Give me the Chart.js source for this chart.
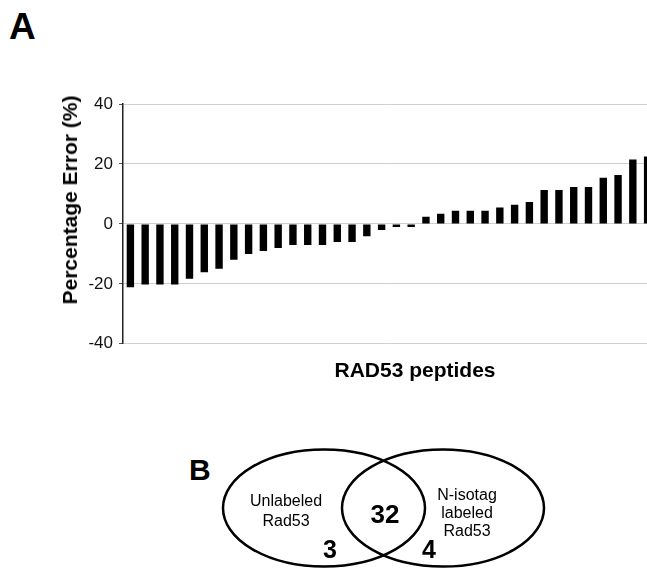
<!DOCTYPE html>
<html>
<head>
<meta charset="utf-8">
<script src="https://cdn.jsdelivr.net/npm/chart.js@4"></script>
<style>
  body { margin: 0; overflow: hidden; background: #fff; font-family: "Liberation Sans", Arial, sans-serif; }
  #page { position: relative; width: 647px; height: 568px; overflow: hidden; }
  #chartBox { position: absolute; left: 0; top: 0; width: 660px; height: 360px; }
  .panel { position: absolute; font-weight: bold; color: #000; }
  #yTitle { position: absolute; left: 70px; top: 200px; transform: translate(-50%, -50%) rotate(-90deg);
            font-size: 21px; font-weight: bold; white-space: nowrap; }
  #xTitle { position: absolute; left: 415px; top: 370px; transform: translate(-50%, -50%);
            font-size: 21px; font-weight: bold; white-space: nowrap; }
  #venn { position: absolute; left: 0; top: 0; }
</style>
</head>
<body>
<div id="page">
  <div class="panel" style="left:9px; top:6px; font-size:37px;">A</div>
  <div id="chartBox"><canvas id="errorChart" width="660" height="360"></canvas></div>
  <div id="yTitle">Percentage Error (%)</div>
  <div id="xTitle">RAD53 peptides</div>
  <div class="panel" style="left:189px; top:453px; font-size:30px;">B</div>
  <svg id="venn" width="647" height="568" font-family="Liberation Sans, Arial, sans-serif">
    <ellipse cx="324" cy="508" rx="101" ry="58.5" fill="none" stroke="#000" stroke-width="2.5"/>
    <ellipse cx="443" cy="508" rx="101" ry="58.5" fill="none" stroke="#000" stroke-width="2.5"/>
    <text x="286" y="506" font-size="16" text-anchor="middle">Unlabeled</text>
    <text x="286" y="526" font-size="16" text-anchor="middle">Rad53</text>
    <text x="467" y="500" font-size="16" text-anchor="middle">N-isotag</text>
    <text x="467" y="518" font-size="16" text-anchor="middle">labeled</text>
    <text x="467" y="536" font-size="16" text-anchor="middle">Rad53</text>
    <text x="385" y="523" font-size="26" font-weight="bold" text-anchor="middle">32</text>
    <text x="330" y="558" font-size="25" font-weight="bold" text-anchor="middle">3</text>
    <text x="429" y="558" font-size="25" font-weight="bold" text-anchor="middle">4</text>
  </svg>
</div>
<script>
// peptides sorted by percentage error
const peptides = ['1', '2', '3', '4', '5', '6', '7', '8', '9', '10', '11', '12',
                  '13', '14', '15', '16', '17', '18', '19', '20', '21', '22', '23', '24',
                  '25', '26', '27', '28', '29', '30', '31', '32', '33', '34', '35', '36'];
const percentError = [-21.1, -20.2, -20.2, -20.2, -18.3, -16.1, -15.0, -12.0, -10.0, -9.0, -8.0, -7.0,
                      -7.0, -7.0, -6.0, -6.0, -4.1, -2.0, -1.0, -1.0, 2.4, 3.4, 4.4, 4.4,
                      4.4, 5.5, 6.4, 7.3, 11.3, 11.3, 12.3, 12.3, 15.4, 16.3, 21.5, 22.5];
const yTicks = [-40, -20, 0, 20, 40];

const ctx = document.getElementById('errorChart').getContext('2d');

new Chart(ctx, {
    type: 'bar',
    data: {
        labels: peptides,
        datasets: [{
            data: percentError,
            backgroundColor: '#000',
            borderWidth: 0,
            barPercentage: 0.5,
            categoryPercentage: 1.0
        }]
    },
    options: {
        responsive: false,
        animation: false,
        layout: { padding: { top: 104, bottom: 12, left: 0, right: 5 } },
        plugins: {
            legend: { display: false },
            tooltip: { enabled: false }
        },
        scales: {
            x: { display: false },
            y: {
                min: yTicks[0],
                max: yTicks[yTicks.length - 1],
                afterBuildTicks: (scale) => { scale.ticks = yTicks.map(v => ({ value: v })); },
                afterFit: (scale) => { scale.width = 123; },
                ticks: {
                    color: '#111',
                    padding: 6,
                    font: { family: 'Liberation Sans, Arial, sans-serif', size: 17 }
                },
                grid: { color: '#cfcfcf', lineWidth: 1, tickColor: '#555', tickLength: 4 },
                border: { color: '#222', width: 1.5 }
            }
        }
    }
});
</script>
</body>
</html>
